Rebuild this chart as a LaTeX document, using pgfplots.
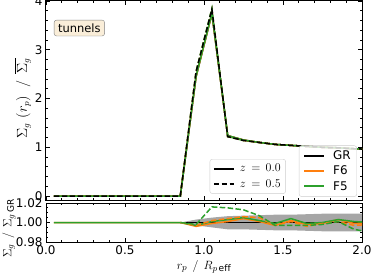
\documentclass[border=0pt]{standalone}
\usepackage{pgfplots}
\pgfplotsset{compat=1.18}
\usepackage{fontspec}
\setmainfont{DejaVu Sans}
\definecolor{tabor}{HTML}{FF7F0E}
\definecolor{tabgr}{HTML}{2CA02C}
\definecolor{wheatl}{RGB}{250,238,217}
\pgfplotsset{
  common/.style={
    scale only axis, width=316bp,
    xmin=0, xmax=2,
    axis line style={line width=1bp},
    tick align=inside, xtick pos=both, ytick pos=both,
    major tick length=4bp, minor tick length=2bp,
    every tick/.style={black, line width=0.8bp},
    /pgf/number format/assume math mode=true,
    tick label style={font=\fontsize{12}{14}\selectfont},
    xtick={0,0.5,1,1.5,2}, minor x tick num=4,
    xticklabel style={/pgf/number format/.cd, fixed, fixed zerofill, precision=1},
    legend image code/.code={\draw[##1] (0bp,0bp) -- (20bp,0bp);},
    legend style={draw=black!20, rounded corners=2.5bp, fill=white, fill opacity=0.8, text opacity=1,
      font=\fontsize{12}{14}\selectfont, inner xsep=3bp, inner ysep=3bp, row sep=1bp},
    legend cell align=left,
  },
  dsh/.style={dash pattern=on 5.5bp off 2.4bp},
}
\begin{document}
\begin{tikzpicture}
% ---------------- top panel ----------------
\begin{axis}[common, name=top, at={(46bp,-200bp)}, anchor=south west,
  height=199bp, ymin=-0.08, ymax=4,
  ytick={0,1,2,3,4}, minor y tick num=4,
  xticklabels={},
  ylabel={$\Sigma_g\,\left(r_p\right)\;\,/\;\,\overline{\Sigma_g}$},
  ylabel style={at={(axis description cs:-0.073,0.51)}, anchor=center, font=\fontsize{13.5}{15}\selectfont},
  legend style={at={(0.759,0.206)}, anchor=north east, row sep=2bp},
]
\addlegendimage{black, line width=1.8bp}
\addlegendentry{$\;z\,=\,0.0$}
\addlegendimage{black, line width=1.8bp, dsh}
\addlegendentry{$\;z\,=\,0.5$}
% dashed modified gravity (hidden below GR dashed)
\addplot[forget plot, tabor, line width=1.5bp, dsh] coordinates {
(0.05,0)(0.15,0)(0.25,0)(0.35,0)(0.45,0)(0.55,0)(0.65,0)(0.75,0)(0.85,0)
(0.95,2.55)(1.05,3.83)(1.15,1.22)(1.25,1.14)(1.35,1.10)(1.45,1.06)(1.55,1.04)(1.65,1.02)(1.75,1.00)(1.85,0.99)(1.95,0.97)(2.05,0.96)};
\addplot[forget plot, tabgr, line width=1.5bp, dsh] coordinates {
(0.05,0)(0.15,0)(0.25,0)(0.35,0)(0.45,0)(0.55,0)(0.65,0)(0.75,0)(0.85,0)
(0.95,2.56)(1.05,3.85)(1.15,1.22)(1.25,1.14)(1.35,1.10)(1.45,1.06)(1.55,1.04)(1.65,1.02)(1.75,1.00)(1.85,0.99)(1.95,0.97)(2.05,0.96)};
% solid z=0
\addplot[forget plot, black, line width=1.5bp] coordinates {
(0.05,0)(0.15,0)(0.25,0)(0.35,0)(0.45,0)(0.55,0)(0.65,0)(0.75,0)(0.85,0)
(0.95,2.45)(1.05,3.74)(1.15,1.24)(1.25,1.15)(1.35,1.10)(1.45,1.06)(1.55,1.04)(1.65,1.02)(1.75,1.00)(1.85,0.99)(1.95,0.97)(2.05,0.96)};
\addplot[forget plot, tabor, line width=1.5bp] coordinates {
(0.05,0)(0.15,0)(0.25,0)(0.35,0)(0.45,0)(0.55,0)(0.65,0)(0.75,0)(0.85,0)
(0.95,2.45)(1.05,3.74)(1.15,1.24)(1.25,1.15)(1.35,1.10)(1.45,1.06)(1.55,1.04)(1.65,1.02)(1.75,1.00)(1.85,0.99)(1.95,0.97)(2.05,0.96)};
\addplot[forget plot, tabgr, line width=1.5bp] coordinates {
(0.05,0)(0.15,0)(0.25,0)(0.35,0)(0.45,0)(0.55,0)(0.65,0)(0.75,0)(0.85,0)
(0.95,2.46)(1.05,3.75)(1.15,1.24)(1.25,1.15)(1.35,1.10)(1.45,1.06)(1.55,1.04)(1.65,1.02)(1.75,1.00)(1.85,0.99)(1.95,0.97)(2.05,0.96)};
% GR dashed on top
\addplot[forget plot, black, line width=1.5bp, dsh] coordinates {
(0.05,0)(0.15,0)(0.25,0)(0.35,0)(0.45,0)(0.55,0)(0.65,0)(0.75,0)(0.85,0)
(0.95,2.55)(1.05,3.83)(1.15,1.22)(1.25,1.14)(1.35,1.10)(1.45,1.06)(1.55,1.04)(1.65,1.02)(1.75,1.00)(1.85,0.99)(1.95,0.97)(2.05,0.96)};
\node[draw=black!50, fill=wheatl, rounded corners=2.5bp, inner xsep=4bp, inner ysep=3.5bp, anchor=north west,
  font=\fontsize{11.5}{13}\selectfont] at (rel axis cs:0.025,0.905) {tunnels};
\end{axis}
% second legend
\begin{axis}[common, hide axis, at={(46bp,-200bp)}, anchor=south west,
  height=199bp, ymin=-0.08, ymax=4,
  legend style={at={(0.984,0.274)}, anchor=north east, inner xsep=4bp},
]
\addlegendimage{black, line width=2bp}
\addlegendentry{\hspace{6bp}GR}
\addlegendimage{tabor, line width=2bp}
\addlegendentry{\hspace{6bp}F6}
\addlegendimage{tabgr, line width=2bp}
\addlegendentry{\hspace{6bp}F5}
\end{axis}
% ---------------- bottom panel ----------------
\begin{axis}[common, name=bot, at={(46bp,-242bp)}, anchor=south west,
  height=39bp, ymin=0.98, ymax=1.02,
  ytick={0.98,1.00,1.02}, minor y tick num=3,
  yticklabel style={/pgf/number format/.cd, fixed, fixed zerofill, precision=2},
  ylabel={$\Sigma_g\;\,/\;\,\Sigma_{g\,\mathrm{GR}}$},
  ylabel style={at={(axis description cs:-0.117,0.35)}, anchor=center, font=\fontsize{13}{15}\selectfont},
  xlabel={$r_p\;\,/\;\,R_{p\,\mathrm{eff}}$},
  xlabel style={at={(axis description cs:0.5,-0.64)}, anchor=center, font=\fontsize{13}{15}\selectfont},
]
\addplot[fill=black!35, draw=none] coordinates {
(0.85,1.0)(0.95,1.003)(1.05,1.005)(1.15,1.0065)(1.25,1.007)(1.35,1.0075)(1.45,1.008)(1.55,1.008)(1.65,1.0085)(1.75,1.009)(1.85,1.009)(1.95,1.009)(2.05,1.009)
(2.05,0.991)(1.95,0.991)(1.85,0.991)(1.75,0.991)(1.65,0.9915)(1.55,0.992)(1.45,0.992)(1.35,0.9925)(1.25,0.993)(1.15,0.993)(1.05,0.995)(0.95,0.997)(0.85,1.0)} -- cycle;
\addplot[black, line width=1.5bp] coordinates {(0.05,1)(2.05,1)};
\addplot[tabor, line width=1.5bp] coordinates {
(0.05,1)(0.15,1)(0.25,1)(0.35,1)(0.45,1)(0.55,1)(0.65,1)(0.75,1)(0.85,1)
(0.95,0.996)(1.05,0.999)(1.15,1.001)(1.25,1.004)(1.35,1.001)(1.45,0.997)(1.55,1.002)(1.65,0.998)(1.75,0.999)(1.85,1.003)(1.95,0.999)(2.05,1.0)};
\addplot[tabgr, line width=1.5bp] coordinates {
(0.05,1)(0.15,1)(0.25,1)(0.35,1)(0.45,1)(0.55,1)(0.65,1)(0.75,1)(0.85,1)
(0.95,0.997)(1.05,1.001)(1.15,1.003)(1.25,1.005)(1.35,1.002)(1.45,0.999)(1.55,1.004)(1.65,0.999)(1.75,1.000)(1.85,1.003)(1.95,1.001)(2.05,1.0)};
\addplot[tabor, line width=1.5bp, dsh] coordinates {
(0.85,1)(0.95,0.997)(1.05,1.002)(1.15,1.004)(1.25,1.006)(1.35,1.005)(1.45,0.997)(1.55,1.001)(1.65,0.996)(1.75,0.999)(1.85,1.001)(1.95,0.997)(2.05,0.998)};
\addplot[tabgr, line width=1.5bp, dsh] coordinates {
(0.85,1)(0.95,0.998)(1.05,1.016)(1.15,1.015)(1.25,1.013)(1.35,1.007)(1.45,0.997)(1.55,0.997)(1.65,0.997)(1.75,0.998)(1.85,1.001)(1.95,0.993)(2.05,0.990)};
\end{axis}
\pgfresetboundingbox
\path (0,0) rectangle (374bp,-277bp);
\end{tikzpicture}
\end{document}
